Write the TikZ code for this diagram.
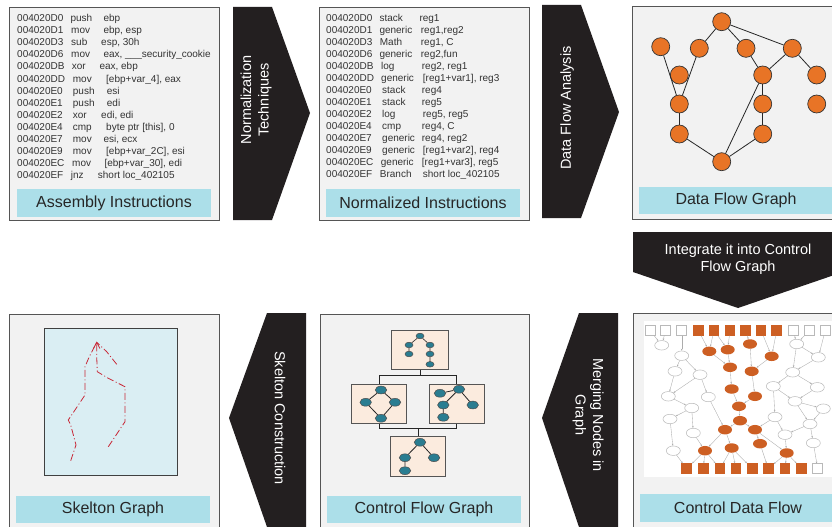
\documentclass[tikz,border=0pt]{standalone}
\usepackage{fontspec}
\setmainfont{Liberation Sans}
\usetikzlibrary{arrows.meta,shapes.geometric}
\definecolor{panelbg}{RGB}{242,242,242}
\definecolor{panelbd}{RGB}{85,85,85}
\definecolor{lblue}{RGB}{172,223,233}
\definecolor{dfo}{RGB}{232,116,38}
\definecolor{cdo}{RGB}{205,95,35}
\definecolor{peach}{RGB}{251,235,222}
\definecolor{tealn}{RGB}{42,125,145}
\definecolor{skbg}{RGB}{218,238,243}
\definecolor{skred}{RGB}{200,40,55}
\definecolor{arrowblk}{RGB}{35,31,32}
\tikzset{
 panel/.style={draw=panelbd, fill=panelbg, line width=0.9pt},
 lbl/.style={fill=lblue, inner sep=0pt, text=black!85, font=\fontsize{16}{19}\selectfont},
 code/.style={anchor=base west, inner sep=0pt, text=black!80, font=\fontsize{10}{12}\selectfont},
 chev/.style={fill=arrowblk},
 chevtext/.style={text=white, align=center, inner sep=0pt, font=\fontsize{14.5}{17.5}\selectfont},
 dfn/.style={circle, fill=dfo, draw=black!80, line width=0.7pt, minimum size=18pt, inner sep=0pt},
 dfe/.style={draw=black!85, line width=0.8pt},
 cbox/.style={draw=panelbd, fill=peach, line width=0.8pt, inner sep=0pt},
 tns/.style={ellipse, fill=tealn, draw=black!70, line width=0.5pt, minimum width=8pt, minimum height=5.6pt, inner sep=0pt},
 tnl/.style={ellipse, fill=tealn, draw=black!70, line width=0.5pt, minimum width=11.5pt, minimum height=7.8pt, inner sep=0pt},
 cfe/.style={draw=black!85, line width=0.8pt},
 skl/.style={draw=skred, line width=0.8pt, dash pattern=on 7pt off 2.5pt on 1pt off 2.5pt},
 cow/.style={ellipse, draw=gray!55, fill=white, line width=0.5pt, minimum width=14pt, minimum height=9.5pt, inner sep=0pt},
 coo/.style={ellipse, fill=cdo, minimum width=14pt, minimum height=9.5pt, inner sep=0pt},
 csw/.style={rectangle, draw=gray!55, fill=white, line width=0.5pt, minimum size=10pt, inner sep=0pt},
 cso/.style={rectangle, fill=cdo, minimum size=10.5pt, inner sep=0pt},
 cde/.style={draw=gray!65, line width=0.35pt, -{Stealth[length=2pt,width=1.6pt]}},
}
\newcommand\codeline[8]{%
 \node[code] (#1a) at (#3,#2) {#4};
 \node[code] (#1m) at (#5,#2) {#6};
 \node[code] (#1o) at (#7,#2) {#8};}
\begin{document}
\begin{tikzpicture}[x=1pt,y=-1pt]
\useasboundingbox (0,0) rectangle (832,527);
\clip (0,0) rectangle (832,527);
\fill[white] (0,0) rectangle (832,527);

% ---------- panels ----------
\draw[panel] (9,7) rectangle (219,220);
\draw[panel] (319,7) rectangle (529,220);
\draw[panel] (632,6) rectangle (842,219);
\draw[panel] (633,313) rectangle (843,531);
\draw[panel] (320,314) rectangle (529,531);
\draw[panel] (9,314) rectangle (219,531);

% ---------- labels ----------
\node[lbl, minimum width=194pt, minimum height=28pt] (lab1) at (114,203) {Assembly Instructions};
\node[lbl, minimum width=194pt, minimum height=28pt] (lab2) at (423,203) {Normalized Instructions};
\node[lbl, minimum width=194pt, minimum height=27pt] (lab3) at (736,200.5) {Data Flow Graph};
\node[lbl, minimum width=196pt, minimum height=28pt] (lab4) at (738,508) {Control Data Flow};
\node[lbl, minimum width=194pt, minimum height=27pt] (lab5) at (424,509.5) {Control Flow Graph};
\node[lbl, minimum width=194pt, minimum height=27pt] (lab6) at (113,509.5) {Skelton Graph};

% ---------- assembly code ----------
\codeline{as1}{21.6}{17}{004020D0}{70.3}{push}{103.3}{ebp}
\codeline{as2}{33.7}{17}{004020D1}{71}{mov}{103.3}{ebp, esp}
\codeline{as3}{45.8}{17}{004020D3}{71}{sub}{101}{esp, 30h}
\codeline{as4}{57.8}{17}{004020D6}{71}{mov}{103.3}{eax, \_\_\_security\_cookie}
\codeline{as5}{69.9}{17}{004020DB}{71.7}{xor}{99.3}{eax, ebp}
\codeline{as6}{82.0}{17}{004020DD}{72.7}{mov}{106}{[ebp+var\_4], eax}
\codeline{as7}{94.1}{17}{004020E0}{72.7}{push}{106.7}{esi}
\codeline{as8}{106.2}{17}{004020E1}{72.7}{push}{106.7}{edi}
\codeline{as9}{118.2}{17}{004020E2}{72.7}{xor}{101}{edi, edi}
\codeline{as10}{130.3}{17}{004020E4}{72.7}{cmp}{106}{byte ptr [this], 0}
\codeline{as11}{142.4}{17}{004020E7}{72.7}{mov}{103.3}{esi, ecx}
\codeline{as12}{154.5}{17}{004020E9}{72.7}{mov}{106}{[ebp+var\_2C], esi}
\codeline{as13}{166.6}{17}{004020EC}{72}{mov}{104.3}{[ebp+var\_30], edi}
\codeline{as14}{178.6}{17}{004020EF}{70.7}{jnz}{97.7}{short loc\_402105}

% ---------- normalized code ----------
\codeline{nm1}{21.6}{326}{004020D0}{379.3}{stack}{419.3}{reg1}
\codeline{nm2}{33.6}{326}{004020D1}{379.3}{generic}{420.7}{reg1,reg2}
\codeline{nm3}{45.6}{326}{004020D3}{379.7}{Math}{420.7}{reg1, C}
\codeline{nm4}{57.6}{326}{004020D6}{379.3}{generic}{420.7}{reg2,fun}
\codeline{nm5}{69.6}{326}{004020DB}{381}{log}{421.7}{reg2, reg1}
\codeline{nm6}{81.6}{326}{004020DD}{381}{generic}{422.7}{[reg1+var1], reg3}
\codeline{nm7}{93.6}{326}{004020E0}{382}{stack}{421.7}{reg4}
\codeline{nm8}{105.6}{326}{004020E1}{382}{stack}{421.7}{reg5}
\codeline{nm9}{117.6}{326}{004020E2}{382}{log}{422.7}{reg5, reg5}
\codeline{nm10}{129.6}{326}{004020E4}{382}{cmp}{421.7}{reg4, C}
\codeline{nm11}{141.6}{326}{004020E7}{382}{generic}{421.7}{reg4, reg2}
\codeline{nm12}{153.6}{326}{004020E9}{382}{generic}{422.7}{[reg1+var2], reg4}
\codeline{nm13}{165.6}{326}{004020EC}{380.7}{generic}{421.7}{[reg1+var3], reg5}
\codeline{nm14}{177.6}{326}{004020EF}{379.7}{Branch}{422.7}{short loc\_402105}

% ---------- chevrons ----------
\fill[chev] (233,7) -- (272,7) -- (310,113) -- (272,220) -- (233,220) -- cycle;
\node[chevtext, rotate=90] (ch1) at (256,100) {Normalization\\Techniques};
\fill[chev] (542,5) -- (581,5) -- (619,112) -- (581,218) -- (542,218) -- cycle;
\node[chevtext, rotate=90] (ch2) at (567,108) {Data Flow Analysis};
\fill[chev] (633,232) -- (843,232) -- (843,272) -- (738,308) -- (633,272) -- cycle;
\node[chevtext] (ch3) at (738,259) {Integrate it into Control\\Flow Graph};
\fill[chev] (618,313) -- (579,313) -- (542,418) -- (579,527) -- (618,527) -- cycle;
\node[chevtext, rotate=-90] (ch4) at (588,415) {Merging Nodes in\\Graph};
\fill[chev] (306,313) -- (267,313) -- (229,418) -- (267,527) -- (306,527) -- cycle;
\node[chevtext, rotate=-90] (ch5) at (280,418) {Skelton Construction};

% ---------- data flow graph ----------
\node[dfn] (d1) at (721.7,21.7) {};
\node[dfn] (d2) at (660.7,46.7) {};
\node[dfn] (d3) at (699.3,48.3) {};
\node[dfn] (d4) at (746,48.3) {};
\node[dfn] (d5) at (792.3,48.3) {};
\node[dfn] (d6) at (679.3,75) {};
\node[dfn] (d7) at (762.7,75) {};
\node[dfn] (d8) at (816.7,75) {};
\node[dfn] (d9) at (679.3,104) {};
\node[dfn] (d10) at (762.7,104) {};
\node[dfn] (d11) at (816.7,104) {};
\node[dfn] (d12) at (679.3,134) {};
\node[dfn] (d13) at (762.7,134) {};
\node[dfn] (d14) at (721.7,161.7) {};
\draw[dfe] (d1) -- (d3);
\draw[dfe] (d1) -- (d4);
\draw[dfe] (d1) -- (d5);
\draw[dfe] (d4) -- (d7);
\draw[dfe] (d5) -- (d7);
\draw[dfe] (d5) -- (d8);
\draw[dfe] (d2) -- (d9);
\draw[dfe] (d3) -- (d9);
\draw[dfe] (d9) -- (d12);
\draw[dfe] (d12) -- (d14);
\draw[dfe] (d13) -- (d14);
\draw[dfe] (d7) -- (d14);
\draw[dfe] (d7) -- (d10);
\draw[dfe] (d10) -- (d13);

% ---------- control flow graph ----------
\node[cbox, minimum width=56.6pt, minimum height=38.6pt] (cT) at (420,350) {};
\node[cbox, minimum width=55pt, minimum height=39.3pt] (cL) at (379.2,403.65) {};
\node[cbox, minimum width=55pt, minimum height=39.3pt] (cR) at (456.8,403.65) {};
\node[cbox, minimum width=55pt, minimum height=39.3pt] (cB) at (418.2,456.35) {};
\draw[cfe] (cT.south) -- ++(0,5.7) coordinate (jt) -| (cL.north);
\draw[cfe] (jt) -| (cR.north);
\draw[cfe] (cL.south) -- ++(0,5) coordinate (jl) -| (cB.north);
\draw[cfe] (cR.south) -- ++(0,5) coordinate (jr) -- (jl);
\node[tns] (T1) at (420,336) {};
\node[tns] (T2) at (409,345) {};
\node[tns] (T3) at (430,345) {};
\node[tns] (T4) at (409,354) {};
\node[tns] (T5) at (430,354) {};
\node[tns] (T6) at (430,364.3) {};
\draw[cfe, line width=0.6pt] (T1) -- (T2) (T1) -- (T3) (T2) -- (T4) (T3) -- (T5) (T5) -- (T6);
\node[tnl] (L1) at (381,390) {};
\node[tnl] (L2) at (365.7,402.3) {};
\node[tnl] (L3) at (395,402.3) {};
\node[tnl] (L4) at (381,418.3) {};
\draw[cfe] (L1) -- (L2) (L1) -- (L3) (L2) -- (L4) (L3) -- (L4);
\node[tnl] (R1) at (440,393.3) {};
\node[tnl] (R2) at (459,389.3) {};
\node[tnl] (R3) at (443.3,405) {};
\node[tnl] (R4) at (472.7,405) {};
\node[tnl] (R5) at (443.3,417.3) {};
\draw[cfe] (R2) -- (R1) (R2) -- (R3) (R2) -- (R4) (R3) -- (R5);
\node[tnl] (B1) at (420,442.3) {};
\node[tnl] (B2) at (405,457.7) {};
\node[tnl] (B3) at (434,457.7) {};
\node[tnl] (B4) at (405,470.7) {};
\draw[cfe] (B1) -- (B2) (B1) -- (B3) (B2) -- (B4);

% ---------- skeleton ----------
\node[draw=black!75, fill=skbg, line width=0.8pt, minimum width=133pt, minimum height=147pt, inner sep=0pt] (sk) at (110.5,401.5) {};
\coordinate (skTop) at (96.7,342.3);
\draw[skl] (70.7,460.7) -- (76,445) -- (70.7,425) -- (68.3,420) -- (85,395) -- (85,366.7) -- (89.3,356.7) -- (skTop);
\draw[skl] (108.3,446.7) -- (125,421.7) -- (125,386.7) -- (108.3,378.3) -- (97.3,371.7) -- (96.7,356.7) -- (skTop);
\draw[skl] (116.7,364.3) -- (106.7,351.7) -- (skTop);
\draw[draw=skred, line width=0.8pt] (93.5,348.5) -- (skTop) -- (99.9,348.5);

% ---------- control data flow ----------
\fill[white] (644,321) rectangle (840,477);
\foreach \n/\x in {t1/650,t2/665.7,t3/681.7,t10/793.3,t11/809.3,t12/825.3}
  \node[csw] (\n) at (\x,330.3) {};
\foreach \n/\x in {t4/698.3,t5/714,t6/730,t7/745.3,t8/761,t9/776.7}
  \node[cso] (\n) at (\x,330.3) {};
\foreach \n/\x in {b1/686.7,b2/703.3,b3/720,b4/736,b5/752.3,b6/768.3,b7/785,b8/801.7}
  \node[cso] (\n) at (\x,468.7) {};
\node[csw] (b9) at (817.7,468.7) {};
\foreach \n/\x/\y in {o1/709.3/351.3,o2/727.7/349.7,o3/750/344,o4/771.7/356.3,o5/730/367.3,o6/751.7/371.3,o7/731.7/389,o8/755/396.3,o9/739/406.3,o10/740/420.7,o11/725/429.7,o12/755/429.7,o13/705/450.7,o14/731.7/448,o15/760/443.7,o16/786.7/453}
  \node[coo] (\n) at (\x,\y) {};
\foreach \n/\x/\y in {w1/661.7/345.3,w2/681.7/355.7,w3/675/371.3,w4/700/374.7,w5/668.3/396.3,w6/708.3/397,w7/691.7/408,w8/670/419,w9/693.3/433,w10/673.3/450.7,w11/796.7/344,w12/818.3/357.3,w13/792.7/372.3,w14/773.3/386.3,w15/817.3/387.3,w16/795/401.3,w17/823.3/408.7,w18/775/417,w19/810/424,w20/785/434.7,w21/813.3/443}
  \node[cow] (\n) at (\x,\y) {};
\foreach \a/\b in {t1/w1,t2/w1,t3/w2,t4/o1,t5/o1,t5/o2,t6/o2,t7/o3,t8/o4,t9/o4,t10/w11,t11/w11,t12/w12,
  w2/w3,w2/w4,w3/w5,w4/w5,w4/w6,w5/w7,w7/w8,w7/w9,w6/o11,w8/w10,w9/o13,w10/b1,
  o1/o5,o2/o5,o3/o6,o4/o6,o5/o7,o6/o8,o7/o9,o8/o9,o9/o10,o10/o11,o10/o12,o11/o13,o11/o14,o12/o15,o12/o16,
  o13/b1,o13/b2,o13/b3,o14/b3,o14/b4,o14/b5,o15/b6,o16/b6,o16/b7,o16/b8,
  w11/w12,w11/w13,w12/w13,w13/w14,w13/w15,w14/w16,w14/w18,w15/w16,w16/w17,w16/w19,w17/w19,w18/o12,w18/w20,w19/w20,w19/w21,w20/o16,w21/b9}
  \draw[cde] (\a) -- (\b);
\end{tikzpicture}
\end{document}
